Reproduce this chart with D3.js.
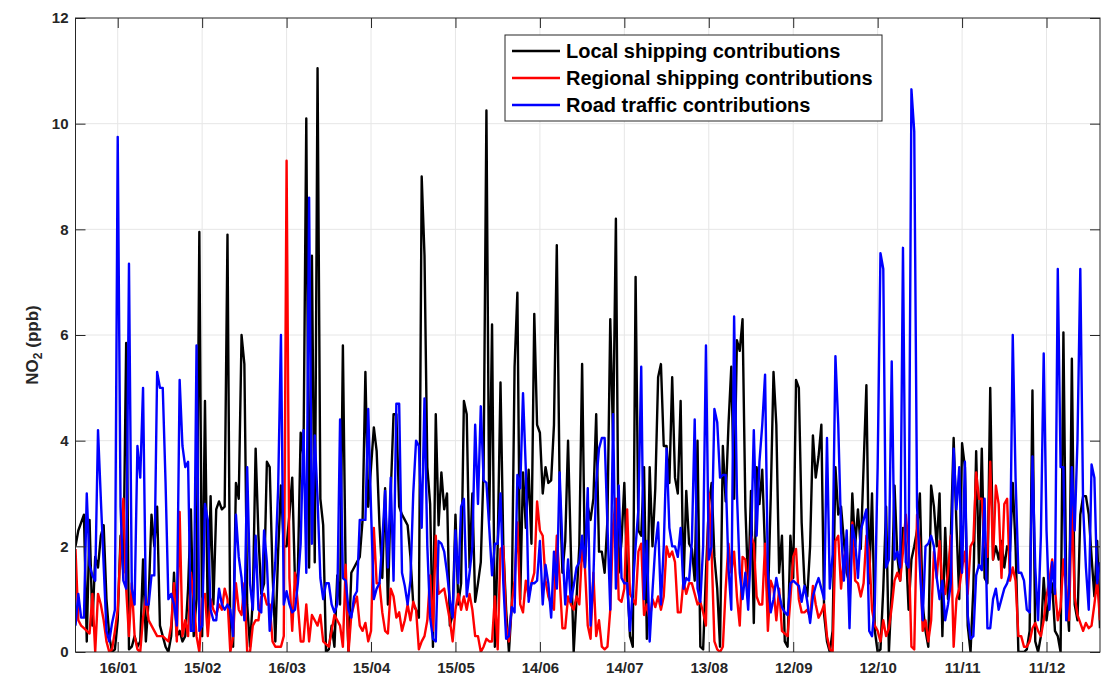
<!DOCTYPE html>
<html>
<head>
<meta charset="utf-8">
<script src="https://cdn.jsdelivr.net/npm/d3@7"></script>
<style>
  body { margin: 0; background: #ffffff; }
  svg { display: block; font-family: "Liberation Sans", Arial, Helvetica, sans-serif; }
</style>
</head>
<body>
<svg id="chart" width="1102" height="681"></svg>
<script>
// Daily NO2 contributions (ppb), one value per day from 1 January (day index 0) to 30 December.
const localShipping = [
  2.0, 2.3, 2.45, 2.6, 0.2, 2.5, 0.5, 1.8, 1.6, 2.2,
  2.4, 1.0, 0.3, 0.0, 0.05, 0.6, 2.2, 1.5, 5.85, 0.05,
  0.1, 0.3, 0.1, 0.2, 1.75, 0.2, 1.0, 2.6, 2.0, 2.75,
  0.5, 0.3, 0.1, 0.0, 0.3, 1.5, 0.3, 0.4, 0.2, 0.3,
  1.2, 2.7, 0.3, 1.0, 7.95, 0.3, 4.75, 0.6, 2.95, 0.9,
  2.7, 2.85, 2.7, 2.75, 7.9, 0.2, 0.1, 3.2, 2.9, 6.0,
  5.45, 0.9, 0.1, 1.0, 3.85, 2.2, 1.1, 1.3, 3.6, 3.5,
  1.5, 0.2, 1.9, 3.15, 2.0, 2.0, 2.6, 3.3, 1.3, 1.5,
  4.15, 3.7, 10.1, 1.6, 7.5, 1.7, 11.05, 2.9, 2.4, 0.0,
  0.05, 0.5, 0.1, 1.45, 0.9, 5.8, 1.4, 0.0, 1.5, 1.6,
  1.7, 1.8, 2.5, 5.3, 2.75, 3.5, 4.25, 3.8, 2.4, 1.4,
  3.1, 0.9, 3.0, 4.5, 4.5, 2.75, 2.6, 2.5, 2.4, 1.8,
  0.9, 0.8, 0.65, 9.0, 7.5, 3.5, 2.8, 0.1, 4.5, 2.4,
  3.4, 2.7, 3.0, 0.5, 0.7, 2.6, 0.9, 1.3, 4.75, 4.5,
  1.6, 3.0, 0.95, 1.3, 1.7, 3.5, 10.25, 2.5, 6.2, 0.1,
  2.0, 5.1, 2.0, 0.8, 0.0, 0.9, 5.4, 6.8, 1.0, 3.4,
  2.35, 3.45, 2.05, 6.4, 4.3, 4.15, 3.0, 3.5, 3.2, 3.25,
  4.3, 7.7, 3.2, 1.5, 2.1, 4.0, 1.9, 0.0, 1.0, 2.0,
  5.45, 1.6, 2.75, 2.5, 2.9, 4.5, 1.9, 1.9, 1.5, 2.5,
  6.3, 4.0, 8.2, 1.5, 2.1, 3.2, 1.4, 0.3, 0.1, 7.1,
  2.3, 2.2, 3.5, 0.25, 3.5, 2.0, 3.1, 5.2, 5.45, 3.9,
  3.9, 3.2, 5.2, 3.3, 3.0, 4.75, 1.2, 3.05, 2.05, 1.95,
  1.35, 4.0, 0.1, 0.05, 1.5, 2.75, 3.2, 1.8, 1.2, 0.1,
  3.9, 2.85, 4.3, 5.4, 2.9, 5.9, 5.7, 6.3, 2.75, 1.2,
  3.05, 0.55, 3.5, 2.8, 3.45, 1.9, 0.9, 2.9, 5.3, 4.3,
  1.5, 2.2, 0.2, 0.1, 2.2, 1.4, 5.15, 5.0, 2.45, 1.3,
  1.05, 2.0, 4.1, 3.3, 3.7, 4.3, 0.7, 0.2, 0.0, 0.4,
  3.5, 2.6, 2.75, 2.1, 1.5, 1.3, 3.0, 2.0, 2.7, 1.95,
  3.5, 5.05, 1.3, 3.0, 0.4, 0.0, 0.05, 1.2, 2.75, 0.0,
  1.2, 3.15, 1.8, 1.35, 2.35, 2.0, 0.8, 1.75, 2.0, 2.3,
  3.0, 0.9, 0.4, 0.1, 3.15, 2.75, 2.0, 3.0, 0.3, 2.35,
  1.0, 2.2, 4.05, 2.4, 1.0, 3.95, 3.5, 0.5, 0.0, 1.2,
  3.8, 1.6, 3.85, 1.4, 1.3, 5.0, 1.75, 2.0, 1.75, 2.1,
  1.6, 2.0, 1.9, 3.2, 2.0, 0.0, 0.0, 0.0, 0.05, 0.4,
  4.95, 0.2, 0.0, 0.3, 1.4, 0.6, 1.05, 1.3, 0.4, 0.3,
  0.0, 6.05, 1.2, 0.4, 5.55, 0.9, 0.6, 2.6, 2.95, 2.95,
  2.6, 1.8, 1.05, 2.1, 0.45
];

const regionalShipping = [
  1.95, 0.6, 0.5, 0.45, 0.4, 0.35, 1.1, 0.0, 1.1, 0.9,
  0.6, 0.2, 0.0, 0.05, 0.4, 0.8, 2.0, 2.9, 1.2, 0.3,
  1.3, 0.3, 0.05, 0.0, 0.65, 1.05, 0.6, 0.5, 0.4, 0.3,
  0.3, 0.3, 0.25, 0.2, 0.5, 1.3, 0.2, 2.65, 0.3, 0.6,
  0.3, 1.5, 1.0, 0.3, 0.0, 1.0, 1.1, 0.3, 1.0, 0.8,
  0.7, 0.9, 0.8, 1.2, 1.0, 0.0, 0.3, 1.3, 0.8, 0.7,
  1.3, 0.0, 0.0, 0.5, 0.6, 0.6, 1.05, 1.1, 0.9, 0.9,
  0.2, 0.1, 0.1, 0.1, 0.3, 9.3, 1.4, 0.4, 1.5, 0.9,
  0.2, 0.2, 0.9, 0.2, 0.7, 0.6, 0.5, 0.7, 0.2, 0.15,
  0.1, 0.4, 0.7, 0.6, 0.5, 0.1, 1.65, 0.0, 0.7, 0.9,
  1.05, 0.5, 0.4, 0.55, 0.2, 0.4, 2.35, 1.3, 1.3, 0.75,
  0.4, 0.35, 1.2, 1.05, 0.65, 0.75, 0.4, 0.6, 0.9, 0.6,
  0.95, 0.8, 0.05, 0.2, 0.3, 0.6, 1.45, 0.4, 2.2, 1.1,
  1.15, 1.2, 0.9, 0.6, 0.2, 0.8, 1.1, 0.8, 1.05, 0.8,
  1.1, 0.8, 0.3, 0.3, 0.0, 0.1, 0.25, 0.2, 0.2, 1.05,
  0.05, 1.95, 2.0, 0.5, 0.2, 0.9, 1.35, 2.45, 0.9, 0.75,
  1.35, 1.05, 1.3, 1.5, 2.85, 2.3, 2.2, 1.35, 1.05, 0.9,
  0.8, 2.2, 1.4, 0.45, 0.45, 1.05, 0.9, 0.8, 1.05, 0.9,
  1.95, 1.6, 0.5, 0.25, 1.5, 0.3, 0.6, 0.1, 0.05, 0.1,
  0.8, 2.4, 2.9, 1.0, 0.95, 1.2, 2.7, 1.1, 1.0, 0.9,
  1.9, 2.05, 0.7, 0.9, 0.6, 1.0, 0.85, 1.05, 0.8, 1.05,
  2.0, 1.8, 1.9, 1.7, 0.75, 0.75, 1.35, 1.1, 1.3, 1.3,
  1.1, 0.9, 0.95, 0.75, 0.5, 3.0, 1.9, 0.2, 0.05, 0.0,
  0.1, 1.2, 2.05, 1.5, 1.9, 1.05, 0.5, 1.8, 1.75, 1.05,
  2.2, 2.05, 1.05, 0.9, 0.9, 2.05, 0.4, 1.35, 1.2, 0.6,
  1.2, 0.4, 0.35, 0.3, 1.0, 1.8, 1.95, 1.0, 0.75, 0.75,
  0.8, 0.65, 1.25, 0.9, 0.65, 0.75, 0.9, 0.3, 0.05, 0.0,
  2.1, 2.2, 1.2, 1.8, 1.95, 0.9, 2.45, 1.35, 1.3, 1.05,
  1.3, 2.2, 1.9, 0.8, 0.5, 0.4, 0.2, 0.6, 0.3, 0.45,
  0.85, 1.35, 1.5, 1.35, 1.9, 2.6, 2.0, 0.1, 0.05, 2.6,
  2.0, 0.4, 0.6, 0.2, 0.6, 1.9, 1.4, 2.1, 1.2, 1.1,
  1.5, 2.2, 0.1, 1.0, 1.2, 1.6, 1.9, 1.1, 2.0, 2.1,
  3.4, 2.9, 2.9, 2.1, 1.8, 3.6, 1.75, 3.15, 2.8, 1.4,
  2.8, 2.9, 1.35, 1.6, 1.35, 0.3, 0.3, 0.1, 0.1, 0.2,
  0.45, 0.55, 0.4, 0.3, 0.6, 1.05, 1.35, 1.75, 1.2, 0.6,
  0.85, 1.75, 1.2, 0.6, 2.75, 1.05, 0.7, 0.55, 0.4, 0.55,
  0.45, 0.5, 0.9, 1.35, 0.6
];

const roadTraffic = [
  0.5, 1.1, 0.65, 0.65, 3.0, 1.65, 1.45, 1.35, 4.2, 2.9,
  1.65, 0.4, 0.2, 0.55, 0.8, 9.75, 2.75, 1.35, 1.2, 7.35,
  1.2, 0.9, 3.9, 3.3, 5.0, 0.9, 0.9, 1.45, 1.45, 5.3,
  5.0, 5.0, 3.2, 1.0, 1.1, 0.9, 0.5, 5.15, 3.9, 3.5,
  3.6, 0.4, 0.4, 5.8, 0.4, 0.5, 2.8, 2.5, 0.8, 0.6,
  0.6, 1.2, 0.9, 0.8, 0.9, 0.8, 0.3, 2.6, 1.8, 1.4,
  0.6, 3.5, 1.3, 0.8, 2.2, 0.8, 0.75, 2.3, 1.7, 0.4,
  1.0, 1.7, 3.1, 6.0, 0.9, 1.15, 0.9, 0.75, 0.8, 1.3,
  2.05, 4.2, 1.5, 8.6, 2.05, 4.1, 2.9, 1.4, 1.0, 1.3,
  1.3, 0.9, 0.75, 0.9, 4.4, 1.4, 1.35, 0.8, 0.65, 1.05,
  1.15, 2.5, 2.5, 2.5, 4.6, 2.7, 1.0, 1.2, 1.3, 2.1,
  3.05, 1.6, 3.3, 1.35, 4.7, 4.7, 1.5, 1.25, 0.9, 1.35,
  3.0, 4.0, 3.9, 2.35, 4.8, 2.0, 0.65, 0.25, 0.2, 2.1,
  2.05, 1.9, 1.5, 1.0, 0.65, 2.3, 1.3, 2.75, 2.9, 1.05,
  1.5, 2.0, 4.3, 2.8, 4.65, 3.25, 3.2, 2.35, 1.45, 2.05,
  2.05, 3.0, 1.3, 0.25, 0.3, 0.85, 0.75, 3.35, 3.1, 4.9,
  3.45, 0.95, 1.3, 1.3, 1.35, 2.1, 0.9, 1.65, 1.3, 0.65,
  1.9, 1.2, 3.4, 2.0, 0.9, 1.75, 0.95, 1.25, 1.6, 1.7,
  2.2, 1.6, 3.1, 0.5, 1.4, 3.2, 3.85, 4.05, 4.05, 2.4,
  0.8, 4.5, 1.2, 3.15, 1.4, 1.3, 1.3, 0.4, 1.2, 2.0,
  2.7, 5.4, 1.0, 2.1, 0.2, 1.15, 2.0, 2.45, 0.9, 2.0,
  3.85, 2.35, 2.0, 2.0, 1.8, 2.35, 1.2, 1.4, 1.35, 2.1,
  4.4, 1.2, 0.95, 2.0, 5.8, 1.75, 2.0, 4.6, 4.35, 3.3,
  3.35, 3.35, 1.6, 0.8, 6.35, 3.0, 1.5, 1.0, 1.5, 0.8,
  2.0, 4.2, 2.2, 3.6, 4.3, 5.25, 1.5, 0.75, 1.0, 1.4,
  1.1, 0.85, 0.75, 0.7, 1.3, 1.35, 1.3, 1.25, 0.95, 1.25,
  0.95, 0.55, 1.05, 1.25, 1.4, 1.2, 1.0, 4.05, 1.2, 1.85,
  5.6, 4.3, 2.3, 1.35, 2.3, 0.45, 2.4, 2.1, 1.4, 2.3,
  2.5, 2.7, 0.4, 0.3, 0.9, 3.5, 7.55, 7.25, 1.6, 1.75,
  5.5, 1.75, 1.9, 1.6, 7.65, 1.7, 1.6, 10.65, 9.85, 2.75,
  1.6, 0.6, 2.0, 2.05, 2.2, 2.0, 1.4, 1.0, 1.35, 0.6,
  0.9, 1.3, 3.85, 2.7, 3.5, 1.5, 3.6, 0.7, 0.25, 0.3,
  1.45, 1.65, 1.55, 2.9, 0.45, 0.45, 1.0, 1.2, 0.8, 1.0,
  1.2, 1.3, 1.5, 6.0, 3.3, 1.5, 1.5, 1.35, 0.8, 0.75,
  3.7, 1.6, 0.6, 2.2, 5.65, 2.3, 0.8, 1.7, 1.1, 7.25,
  3.5, 3.5, 0.6, 1.15, 3.5, 2.3, 4.0, 7.25, 2.75, 1.6,
  0.8, 3.55, 3.3, 1.3, 1.7
];

// Axis ticks: day index of each labelled date, and its label (dd/mm)
const tickDays   = [15, 45, 75, 105, 135, 165, 195, 225, 255, 285, 315, 345];
const tickLabels = ["16/01", "15/02", "16/03", "15/04", "15/05", "14/06",
                    "14/07", "13/08", "12/09", "12/10", "11/11", "11/12"];
const yTickValues = [0, 2, 4, 6, 8, 10, 12];

const seriesNames = ["Local shipping contributions",
                     "Regional shipping contributions",
                     "Road traffic contributions"];

// ---- drawing ----
const svg = d3.select("#chart");
const plot = { left: 75.5, right: 1100, top: 18, bottom: 652 };

const days = d3.range(localShipping.length);
const x = d3.scaleLinear().domain([0, days.length - 1]).range([plot.left, plot.right]);
const y = d3.scaleLinear().domain([0, 12]).range([plot.bottom, plot.top]);

svg.append("rect")
  .attr("x", 0).attr("y", 0).attr("width", 1102).attr("height", 681)
  .attr("fill", "#ffffff");

// grid
const grid = svg.append("g").attr("stroke", "#e6e6e6").attr("stroke-width", 1);
grid.selectAll("line.v").data(tickDays).join("line")
  .attr("x1", d => x(d)).attr("x2", d => x(d))
  .attr("y1", plot.top).attr("y2", plot.bottom);
grid.selectAll("line.h").data(yTickValues.filter(v => v > 0 && v < 12)).join("line")
  .attr("x1", plot.left).attr("x2", plot.right)
  .attr("y1", d => y(d)).attr("y2", d => y(d));

// series lines
svg.append("clipPath").attr("id", "plotClip")
  .append("rect")
  .attr("x", plot.left).attr("y", plot.top)
  .attr("width", plot.right - plot.left).attr("height", plot.bottom - plot.top);

const series = [
  { name: seriesNames[0], values: localShipping,    color: "#000000" },
  { name: seriesNames[1], values: regionalShipping, color: "#ff0000" },
  { name: seriesNames[2], values: roadTraffic,      color: "#0000ff" }
];

const line = d3.line()
  .x((d, i) => x(i))
  .y(d => y(d));

const lines = svg.append("g").attr("clip-path", "url(#plotClip)");
series.forEach(s => {
  lines.append("path")
    .datum(s.values)
    .attr("d", line)
    .attr("fill", "none")
    .attr("stroke", s.color)
    .attr("stroke-width", 2.4)
    .attr("stroke-linejoin", "round");
});

// axes (ticks pointing inwards, as on a boxed plot)
const tickLen = 10;
const fmtLabel = (d, i) => tickLabels[i];

const xAxisBottom = svg.append("g")
  .attr("transform", `translate(0,${plot.bottom})`)
  .call(d3.axisBottom(x).tickValues(tickDays).tickFormat(fmtLabel)
        .tickSizeInner(-tickLen).tickSizeOuter(0).tickPadding(10));
const xAxisTop = svg.append("g")
  .attr("transform", `translate(0,${plot.top})`)
  .call(d3.axisTop(x).tickValues(tickDays).tickFormat("")
        .tickSizeInner(-tickLen).tickSizeOuter(0));
const yAxisLeft = svg.append("g")
  .attr("transform", `translate(${plot.left},0)`)
  .call(d3.axisLeft(y).tickValues(yTickValues).tickFormat(d3.format("d"))
        .tickSizeInner(-tickLen).tickSizeOuter(0).tickPadding(7));
const yAxisRight = svg.append("g")
  .attr("transform", `translate(${plot.right},0)`)
  .call(d3.axisRight(y).tickValues(yTickValues).tickFormat("")
        .tickSizeInner(-tickLen).tickSizeOuter(0));

[xAxisBottom, xAxisTop, yAxisLeft, yAxisRight].forEach(g => {
  g.select(".domain").remove();
  g.selectAll(".tick line").attr("stroke", "#262626").attr("stroke-width", 1);
  g.selectAll(".tick text")
    .attr("fill", "#262626")
    .attr("font-family", "'Liberation Sans', Arial, Helvetica, sans-serif")
    .attr("font-size", 15)
    .attr("font-weight", "bold");
});

// frame
svg.append("rect")
  .attr("x", plot.left).attr("y", plot.top)
  .attr("width", plot.right - plot.left).attr("height", plot.bottom - plot.top)
  .attr("fill", "none").attr("stroke", "#262626").attr("stroke-width", 1);

// y-axis title with subscript
const yTitle = svg.append("text")
  .attr("transform", `translate(38,${(plot.top + plot.bottom) / 2 + 10}) rotate(-90)`)
  .attr("text-anchor", "middle")
  .attr("font-size", 17)
  .attr("font-weight", "bold")
  .attr("fill", "#262626");
yTitle.append("tspan").text("NO");
yTitle.append("tspan").attr("font-size", 12).attr("dy", 4).text("2");
yTitle.append("tspan").attr("dy", -4).text(" (ppb)");

// legend
const legend = svg.append("g");
legend.append("rect")
  .attr("x", 505).attr("y", 35).attr("width", 377).attr("height", 86)
  .attr("fill", "#ffffff").attr("stroke", "#262626").attr("stroke-width", 1);
series.forEach((s, i) => {
  const cy = 51 + i * 27;
  legend.append("line")
    .attr("x1", 512).attr("x2", 560).attr("y1", cy).attr("y2", cy)
    .attr("stroke", s.color).attr("stroke-width", 2.5);
  legend.append("text")
    .attr("x", 566).attr("y", cy).attr("dy", "0.36em")
    .attr("font-size", 20).attr("font-weight", "bold").attr("fill", "#000000")
    .text(s.name);
});
</script>
</body>
</html>
